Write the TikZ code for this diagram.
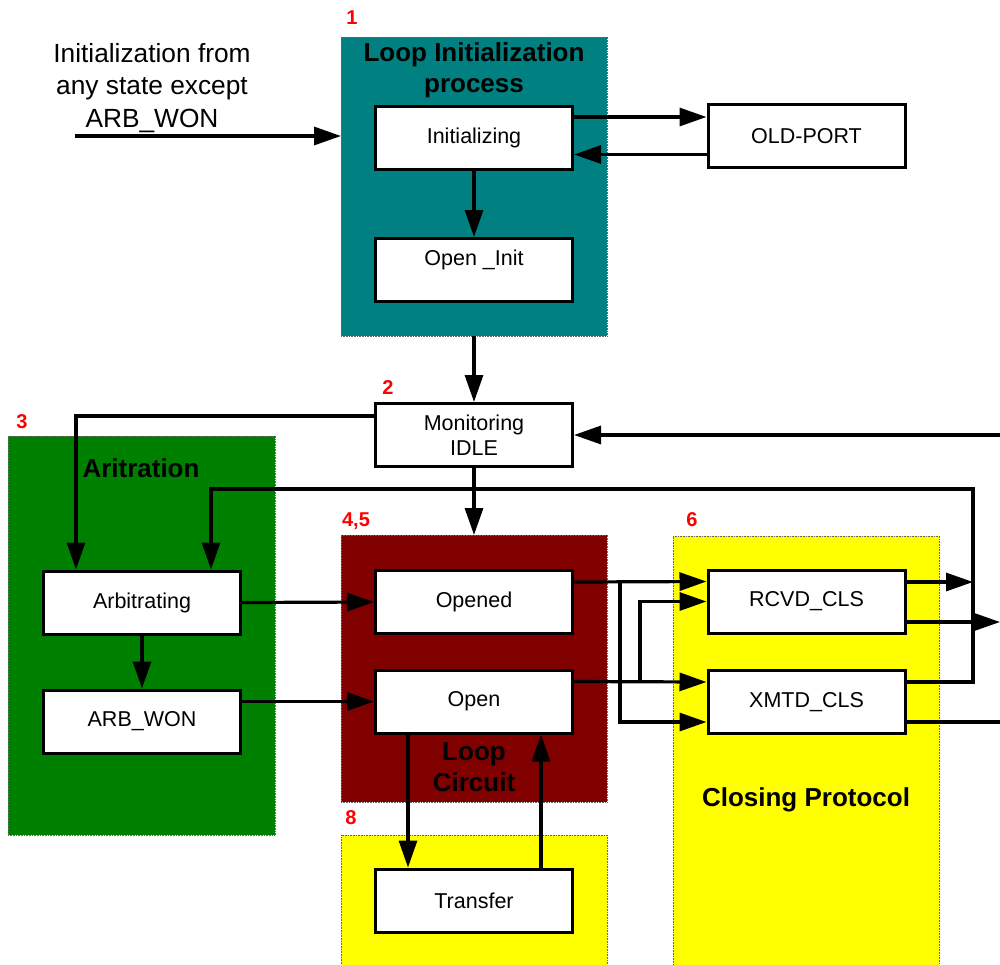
\documentclass[tikz,border=0pt]{standalone}
\usepackage{fontspec}
\setmainfont{Liberation Sans}
\usetikzlibrary{arrows.meta}
\definecolor{teal1}{HTML}{008080}
\definecolor{green1}{HTML}{008000}
\definecolor{maroon1}{HTML}{800000}
\definecolor{yellow1}{HTML}{FFFF00}
\begin{document}
\begin{tikzpicture}[x=1pt,y=-1pt,
  state/.style={draw, fill=white, line width=3pt, minimum width=197pt,
    minimum height=63pt, inner sep=0pt, align=center,
    font=\fontsize{21.5}{25}\selectfont},
  group/.style={draw=black!60, densely dotted, line width=0.6pt,
    inner sep=0pt, outer sep=0pt},
  title/.style={font=\fontsize{26}{31}\selectfont\bfseries, align=center, inner sep=0pt},
  num/.style={font=\fontsize{20}{22}\selectfont\bfseries, text=red, inner sep=0pt},
  arr/.style={line width=3.2pt, -{Triangle[length=27pt,width=18pt]}},
  wire/.style={line width=3.2pt}]
\useasboundingbox (0,0) rectangle (1000,964);
\clip (0,0) rectangle (1000,964);

% coloured process groups
\node[group, fill=teal1, minimum width=266pt, minimum height=299pt] (grpinit) at (474,186.5) {};
\node[group, fill=green1, minimum width=267pt, minimum height=399pt] (grparb) at (141.5,635.5) {};
\node[group, fill=maroon1, minimum width=266pt, minimum height=267pt] (grploop) at (474,668.5) {};
\node[group, fill=yellow1, minimum width=266pt, minimum height=170pt] (grpxfer) at (474,920) {};
\node[group, fill=yellow1, minimum width=266pt, minimum height=440pt] (grpclose) at (806,756) {};

% group titles and numbers
\node[title] (tinit) at (474,70.5) {Loop Initialization\\process};
\node[title] (tarb) at (141,468) {Aritration};
\node[title] (tloop) at (474,767) {Loop\\Circuit};
\node[title] (tclose) at (806,800) {Closing Protocol};
\node[num] (n1) at (352,18) {1};
\node[num] (n2) at (388,388) {2};
\node[num] (n3) at (22,422) {3};
\node[num] (n45) at (356,521) {4,5};
\node[num] (n8) at (351,818) {8};
\node[num] (n6) at (692,520) {6};

% states
\node[state] (init) at (474,137.5) {Initializing};
\node[state] (openinit) at (474,270) {Open \_Init\\\mbox{}};
\node[state] (oldport) at (806.5,136) {OLD-PORT};
\node[state] (monitor) at (474,435) {Monitoring\\IDLE};
\node[state] (arb) at (142,602.5) {Arbitrating};
\node[state] (arbwon) at (142,721.5) {ARB\_WON};
\node[state] (opened) at (474,602) {Opened};
\node[state] (open) at (474,701.5) {Open};
\node[state] (transfer) at (474,900.5) {Transfer};
\node[state] (rcvd) at (806.5,601.5) {RCVD\_CLS};
\node[state] (xmtd) at (806.5,702) {XMTD\_CLS};

% entry from any state
\node[font=\fontsize{26.3}{32.5}\selectfont, align=center, inner sep=0pt] (entry) at (152,88)
  {Initialization from\\any state except\\ARB\_WON};
\coordinate (src) at (75,136);
\draw[arr] (src) -- (grpinit.west |- src);

% initialization
\draw[arr] ([yshift=20.5pt]init.east) -- ([yshift=20.5pt]init.east -| oldport.west);
\draw[arr] ([yshift=-18.5pt]oldport.west) -- ([yshift=-18.5pt]oldport.west -| init.east);
\draw[arr] (init.south) -- (openinit.north);
\draw[arr] (grpinit.south) -- (monitor.north);

% monitoring
\coordinate (rin) at (1000,435);
\draw[arr] (rin) -- (monitor.east);
\draw[arr] ([yshift=19pt]monitor.west) -| ([xshift=-66pt]arb.north);
\draw[arr] (monitor.south) -- (grploop.north);

% arbitration
\draw[arr] (arb.south) -- (arbwon.north);
\draw[arr] (arb.east) -- (opened.west);
\draw[arr] (arbwon.east |- open.west) -- (open.west);

% loop circuit to closing protocol
\coordinate (b1) at (620,582);
\coordinate (b2) at (640,682);
\draw[arr] ([yshift=20pt]opened.east) -- ([yshift=20pt]rcvd.west);
\draw[arr] (b1) |- ([yshift=-20pt]xmtd.west);
\draw[arr] ([yshift=20pt]open.east) -- ([yshift=20pt]xmtd.west);
\draw[arr] (b2) |- (rcvd.west);

% closing protocol outputs
\coordinate (j) at (973,582);
\coordinate (jtop) at (973,489);
\coordinate (rout) at (1000,622);
\coordinate (xout) at (1000,722);
\draw[arr] ([yshift=19.5pt]rcvd.east) -- (j);
\draw[arr] ([yshift=20pt]xmtd.east) -| (jtop) -| ([xshift=69pt]arb.north);
\draw[arr] ([yshift=-20.5pt]rcvd.east) -- (rout);
\draw[wire] ([yshift=-20pt]xmtd.east) -- (xout);

% transfer
\draw[arr] ([xshift=-66pt]open.south) -- ([xshift=-66pt]transfer.north);
\draw[arr] ([xshift=67pt]transfer.north) -- ([xshift=67pt]open.south);
\end{tikzpicture}
\end{document}
